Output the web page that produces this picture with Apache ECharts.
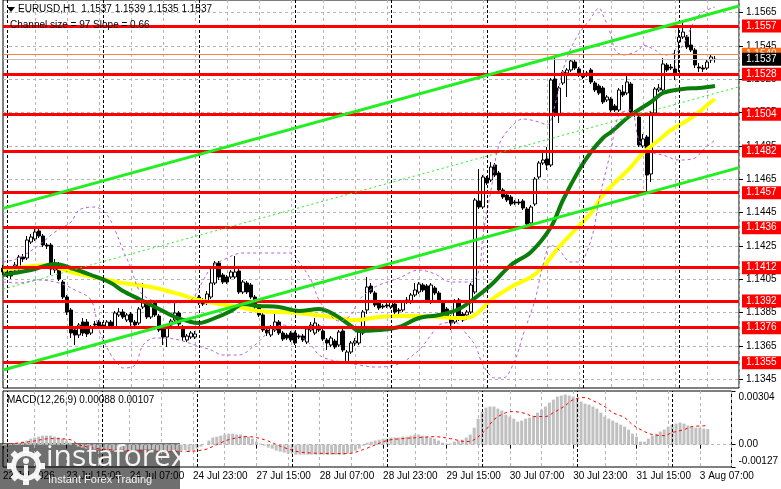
<!DOCTYPE html>
<html><head><meta charset="utf-8">
<script src="https://cdn.jsdelivr.net/npm/echarts@6/dist/echarts.min.js"></script>
<style>html,body{margin:0;padding:0;background:#fff}#c{width:781px;height:489px}</style>
</head><body><div id="c"></div>
<script>
const opens = [1.14118,1.14094,1.14100,1.14106,1.14112,1.14184,1.14178,1.14274,1.14292,1.14340,1.14310,1.14256,1.14256,1.14106,1.14136,1.14034,1.13944,1.13866,1.13746,1.13716,1.13794,1.13794,1.13728,1.13782,1.13794,1.13776,1.13764,1.13794,1.13764,1.13836,1.13854,1.13806,1.13842,1.13794,1.13788,1.13884,1.13914,1.13824,1.13908,1.13830,1.13764,1.13704,1.13776,1.13806,1.13848,1.13764,1.13686,1.13704,1.13704,1.13944,1.13926,1.13908,1.13944,1.14028,1.14148,1.14076,1.14064,1.14064,1.14064,1.14100,1.13974,1.14028,1.14016,1.13944,1.13884,1.13836,1.13746,1.13716,1.13746,1.13794,1.13728,1.13716,1.13728,1.13728,1.13710,1.13710,1.13674,1.13746,1.13728,1.13770,1.13740,1.13686,1.13656,1.13680,1.13656,1.13740,1.13554,1.13614,1.13668,1.13668,1.13728,1.13866,1.14010,1.13968,1.13914,1.13890,1.13896,1.13884,1.13902,1.13866,1.13866,1.13914,1.13914,1.13956,1.13974,1.14016,1.14010,1.13914,1.13998,1.13968,1.13914,1.13872,1.13824,1.13794,1.13926,1.13842,1.13836,1.13854,1.13974,1.14520,1.14484,1.14658,1.14646,1.14736,1.14688,1.14586,1.14556,1.14544,1.14514,1.14514,1.14520,1.14472,1.14388,1.14502,1.14664,1.14748,1.14772,1.14736,1.15252,1.15036,1.15228,1.15288,1.15306,1.15354,1.15312,1.15270,1.15288,1.15306,1.15228,1.15210,1.15198,1.15126,1.15132,1.15090,1.15066,1.15174,1.15168,1.15222,1.15054,1.15024,1.14850,1.14904,1.14682,1.15048,1.15186,1.15186,1.15336,1.15324,1.15312,1.15474,1.15504,1.15504,1.15456,1.15426,1.15324,1.15318,1.15318,1.15366,1.15370];
const closes = [1.14094,1.14088,1.14070,1.14136,1.14184,1.14172,1.14286,1.14304,1.14334,1.14310,1.14256,1.14250,1.14112,1.14148,1.14052,1.13944,1.13854,1.13728,1.13716,1.13776,1.13728,1.13722,1.13764,1.13776,1.13770,1.13764,1.13794,1.13764,1.13848,1.13854,1.13824,1.13836,1.13794,1.13776,1.13872,1.13908,1.13824,1.13896,1.13836,1.13746,1.13704,1.13770,1.13800,1.13848,1.13782,1.13704,1.13710,1.13728,1.13722,1.13908,1.13902,1.13962,1.14028,1.14148,1.14064,1.14034,1.14034,1.14094,1.14094,1.13974,1.14034,1.13974,1.13944,1.13884,1.13836,1.13746,1.13728,1.13764,1.13794,1.13728,1.13692,1.13698,1.13686,1.13668,1.13704,1.13686,1.13752,1.13776,1.13788,1.13746,1.13692,1.13668,1.13698,1.13644,1.13734,1.13626,1.13614,1.13668,1.13680,1.13734,1.13854,1.14004,1.13974,1.13896,1.13878,1.13884,1.13890,1.13914,1.13854,1.13860,1.13914,1.13926,1.13956,1.13986,1.14022,1.13986,1.13926,1.14016,1.13968,1.13920,1.13848,1.13824,1.13788,1.13920,1.13812,1.13806,1.13854,1.14016,1.14526,1.14484,1.14664,1.14628,1.14724,1.14676,1.14586,1.14544,1.14526,1.14502,1.14508,1.14508,1.14478,1.14382,1.14484,1.14652,1.14748,1.14766,1.14736,1.15246,1.15036,1.15198,1.15294,1.15306,1.15360,1.15318,1.15276,1.15264,1.15276,1.15234,1.15186,1.15168,1.15114,1.15144,1.15066,1.15066,1.15186,1.15156,1.15234,1.15054,1.15036,1.14856,1.14892,1.14676,1.15048,1.15192,1.15198,1.15342,1.15306,1.15318,1.15282,1.15504,1.15534,1.15444,1.15426,1.15336,1.15318,1.15312,1.15354,1.15384,1.15370];
const lows = [1.14076,1.14064,1.14052,1.14094,1.14100,1.14154,1.14166,1.14262,1.14280,1.14298,1.14244,1.14232,1.14076,1.14088,1.14040,1.13932,1.13836,1.13698,1.13656,1.13698,1.13710,1.13704,1.13716,1.13758,1.13752,1.13752,1.13752,1.13752,1.13752,1.13824,1.13812,1.13794,1.13764,1.13758,1.13776,1.13872,1.13812,1.13812,1.13824,1.13734,1.13656,1.13644,1.13764,1.13794,1.13770,1.13680,1.13674,1.13692,1.13692,1.13896,1.13890,1.13896,1.13932,1.14016,1.14046,1.14022,1.14022,1.14052,1.14052,1.13962,1.13962,1.13962,1.13932,1.13872,1.13824,1.13734,1.13710,1.13704,1.13734,1.13716,1.13680,1.13686,1.13674,1.13656,1.13692,1.13674,1.13662,1.13734,1.13716,1.13734,1.13680,1.13626,1.13644,1.13632,1.13644,1.13614,1.13542,1.13602,1.13650,1.13656,1.13716,1.13842,1.13962,1.13884,1.13866,1.13872,1.13878,1.13872,1.13842,1.13842,1.13854,1.13902,1.13902,1.13944,1.13962,1.13974,1.13914,1.13902,1.13956,1.13908,1.13836,1.13812,1.13746,1.13782,1.13800,1.13794,1.13806,1.13842,1.13962,1.14472,1.14472,1.14616,1.14634,1.14664,1.14574,1.14532,1.14514,1.14490,1.14496,1.14496,1.14466,1.14352,1.14376,1.14490,1.14652,1.14736,1.14706,1.14724,1.15024,1.14988,1.15216,1.15144,1.15294,1.15306,1.15264,1.15252,1.15264,1.15222,1.15174,1.15156,1.15102,1.15114,1.15054,1.15054,1.15054,1.15144,1.15156,1.15042,1.15024,1.14844,1.14838,1.14562,1.14634,1.15036,1.15174,1.15174,1.15294,1.15306,1.15246,1.15294,1.15492,1.15432,1.15414,1.15318,1.15294,1.15294,1.15306,1.15348,1.15350];
const highs = [1.14136,1.14118,1.14118,1.14154,1.14196,1.14202,1.14310,1.14322,1.14364,1.14358,1.14322,1.14268,1.14268,1.14172,1.14154,1.14046,1.13956,1.13878,1.13770,1.13788,1.13818,1.13812,1.13776,1.13800,1.13806,1.13794,1.13806,1.13806,1.13860,1.13878,1.13872,1.13848,1.13854,1.13806,1.13884,1.14028,1.13926,1.13908,1.13920,1.13842,1.13776,1.13782,1.13812,1.13914,1.13860,1.13776,1.13722,1.13740,1.13740,1.13956,1.13938,1.13980,1.14130,1.14160,1.14160,1.14088,1.14076,1.14106,1.14190,1.14112,1.14046,1.14040,1.14028,1.13956,1.13896,1.13848,1.13758,1.13776,1.13854,1.13806,1.13740,1.13728,1.13740,1.13740,1.13722,1.13722,1.13764,1.13794,1.13818,1.13782,1.13752,1.13698,1.13710,1.13692,1.13746,1.13752,1.13626,1.13680,1.13698,1.13746,1.13866,1.14064,1.14028,1.13980,1.13926,1.13902,1.13914,1.13926,1.13914,1.13878,1.13926,1.13944,1.13968,1.14028,1.14034,1.14028,1.14022,1.14028,1.14010,1.13980,1.13926,1.13884,1.13836,1.13932,1.13938,1.13854,1.13866,1.14028,1.14538,1.14712,1.14676,1.14670,1.14754,1.14748,1.14700,1.14598,1.14568,1.14556,1.14526,1.14532,1.14532,1.14484,1.14496,1.14664,1.14760,1.14826,1.14844,1.15258,1.15384,1.15210,1.15306,1.15318,1.15372,1.15366,1.15324,1.15282,1.15300,1.15318,1.15240,1.15222,1.15210,1.15156,1.15144,1.15102,1.15198,1.15216,1.15276,1.15234,1.15066,1.15036,1.14922,1.14916,1.15060,1.15204,1.15222,1.15378,1.15348,1.15342,1.15426,1.15576,1.15594,1.15516,1.15576,1.15438,1.15348,1.15336,1.15366,1.15396,1.15390];

const macdMain = [-0.00006,-0.00006,0,0.00006,0.00011,0.00017,0.00023,0.00034,0.00040,0.00045,0.00051,0.00051,0.00051,0.00045,0.00040,0.00034,0.00023,0.00011,0,-0.00011,-0.00017,-0.00023,-0.00023,-0.00028,-0.00028,-0.00028,-0.00028,-0.00034,-0.00034,-0.00034,-0.00034,-0.00034,-0.00034,-0.00034,-0.00028,-0.00028,-0.00028,-0.00028,-0.00028,-0.00034,-0.00034,-0.00040,-0.00040,-0.00034,-0.00034,-0.00040,-0.00040,-0.00040,-0.00034,-0.00023,-0.00011,0,0.00023,0.00040,0.00045,0.00051,0.00057,0.00062,0.00062,0.00057,0.00057,0.00051,0.00045,0.00034,0.00017,0.00006,-0.00006,-0.00017,-0.00023,-0.00034,-0.00040,-0.00045,-0.00051,-0.00051,-0.00057,-0.00057,-0.00057,-0.00057,-0.00057,-0.00057,-0.00057,-0.00057,-0.00057,-0.00057,-0.00057,-0.00057,-0.00057,-0.00051,-0.00045,-0.00034,-0.00023,-0.00006,0.00011,0.00017,0.00023,0.00028,0.00034,0.00034,0.00040,0.00040,0.00040,0.00045,0.00045,0.00051,0.00057,0.00057,0.00051,0.00045,0.00040,0.00034,0.00023,0.00011,0.00006,0.00006,0.00017,0.00023,0.00028,0.00040,0.00057,0.00096,0.00147,0.00187,0.00210,0.00216,0.00216,0.00204,0.00193,0.00170,0.00159,0.00147,0.00130,0.00136,0.00147,0.00153,0.00164,0.00181,0.00198,0.00216,0.00238,0.00255,0.00272,0.00278,0.00284,0.00278,0.00272,0.00261,0.00244,0.00232,0.00227,0.00216,0.00204,0.00181,0.00159,0.00147,0.00136,0.00125,0.00113,0.00102,0.00085,0.00062,0.00045,0.00017,0.00017,0.00034,0.00051,0.00062,0.00074,0.00085,0.00102,0.00113,0.00119,0.00125,0.00119,0.00108,0.00102,0.00096,0.00096,0.00091,0.00088];
const macdSignal = [[0,0],[7,0.00017],[12,0.00034],[17,0.00028],[19,0],[24,-0.00023],[32,-0.00034],[45,-0.0004],[51,-0.00028],[54,0],[57,0.00028],[62,0.00045],[66,0.00028],[71,-0.00017],[76,-0.00045],[87,-0.00051],[91,-0.00028],[97,0.00023],[101,0.00034],[105,0.0004],[109,0.00045],[113,0.00034],[117,0.00017],[119,0.00028],[122,0.00085],[124,0.00142],[127,0.00181],[129,0.00187],[132,0.00176],[134,0.00159],[137,0.00159],[139,0.00181],[142,0.00221],[144,0.00255],[147,0.00267],[149,0.00249],[152,0.00215],[154,0.00181],[157,0.00153],[159,0.00113],[162,0.00074],[164,0.00057],[167,0.00051],[169,0.00068],[172,0.00085],[174,0.00102],[178,0.00107]];

const maSlow = [[0,1.14106],[12,1.14136],[14,1.14118],[17,1.14094],[24,1.14058],[30,1.14028],[37,1.14004],[44,1.13962],[49,1.13926],[54,1.13902],[59,1.13884],[64,1.13860],[74,1.13848],[82,1.13824],[88,1.13806],[94,1.13824],[99,1.13830],[104,1.13830],[109,1.13824],[114,1.13818],[117,1.13824],[120,1.13878],[122,1.13926],[127,1.14004],[132,1.14064],[135,1.14124],[139,1.14244],[143,1.14346],[147,1.14448],[150,1.14556],[157,1.14724],[160,1.14808],[164,1.14886],[167,1.14946],[172,1.15018],[177,1.15114],[178,1.15132]];
const maFast = [[0,1.14076],[7,1.14106],[13,1.14142],[17,1.14118],[22,1.14076],[27,1.14028],[30,1.13980],[34,1.13932],[39,1.13872],[43,1.13824],[47,1.13794],[49,1.13788],[53,1.13818],[57,1.13860],[60,1.13902],[64,1.13890],[69,1.13884],[74,1.13860],[79,1.13872],[83,1.13836],[87,1.13770],[89,1.13740],[94,1.13746],[99,1.13764],[104,1.13818],[109,1.13836],[114,1.13872],[118,1.13938],[122,1.14016],[127,1.14136],[132,1.14214],[137,1.14364],[140,1.14526],[144,1.14706],[147,1.14814],[150,1.14898],[152,1.14934],[157,1.15036],[162,1.15114],[165,1.15168],[170,1.15192],[174,1.15198],[178,1.15210]];
const bandUpper = [[0,1.14154],[4,1.14178],[9,1.14256],[13,1.14334],[17,1.14394],[19,1.14466],[23,1.14484],[26,1.14436],[28,1.14346],[30,1.14226],[32,1.14118],[34,1.13986],[37,1.13926],[42,1.13908],[47,1.13926],[49,1.13998],[52,1.14118],[55,1.14166],[60,1.14208],[67,1.14208],[72,1.14208],[74,1.14154],[77,1.14046],[79,1.13926],[82,1.13830],[84,1.13800],[87,1.13836],[89,1.13926],[93,1.14004],[99,1.14058],[104,1.14106],[108,1.14082],[112,1.14034],[117,1.14034],[119,1.14106],[120,1.14316],[122,1.14586],[124,1.14856],[127,1.14964],[130,1.15012],[134,1.14994],[136,1.14976],[138,1.15096],[140,1.15306],[143,1.15486],[147,1.15618],[149,1.15678],[150,1.15636],[152,1.15516],[153,1.15426],[155,1.15396],[159,1.15426],[160,1.15456],[163,1.15426],[165,1.15396],[168,1.15408],[170,1.15456],[173,1.15606],[175,1.15654],[178,1.15684]];
const bandLower = [[0,1.14034],[4,1.14028],[9,1.14046],[14,1.14028],[18,1.13986],[22,1.13926],[24,1.13746],[27,1.13596],[29,1.13536],[30,1.13518],[33,1.13536],[35,1.13656],[38,1.13698],[40,1.13698],[44,1.13686],[48,1.13656],[52,1.13626],[55,1.13596],[59,1.13596],[63,1.13656],[67,1.13746],[70,1.13776],[74,1.13716],[77,1.13656],[79,1.13596],[82,1.13566],[85,1.13554],[89,1.13536],[93,1.13524],[97,1.13530],[100,1.13554],[104,1.13626],[107,1.13716],[109,1.13776],[113,1.13794],[115,1.13746],[118,1.13656],[120,1.13536],[123,1.13458],[125,1.13458],[128,1.13566],[130,1.13716],[133,1.13926],[135,1.14136],[137,1.14256],[139,1.14226],[142,1.14154],[144,1.14154],[147,1.14286],[149,1.14526],[152,1.14826],[154,1.15036],[157,1.15066],[159,1.14886],[162,1.14814],[165,1.14796],[169,1.14766],[173,1.14778],[175,1.14826],[178,1.14886]];

const channelUpper = [[0,1.14476],[184,1.15690]];
const channelMiddle = [[0,1.13991],[184,1.15205]];
const channelLower = [[0,1.13506],[184,1.14720]];
const levels = [1.1557,1.1528,1.1504,1.1482,1.1457,1.1436,1.1412,1.1392,1.1376,1.1355];
const bidPrice = 1.1537;
const askPrice = 1.1540;
const priceTicks = [1.1345,1.1365,1.1385,1.1405,1.1425,1.1445,1.1465,1.1485,1.1505,1.1525,1.1545,1.1565];
const macdTicks = [0.00304,0,-0.00127];
const timeLabels = ['22 Jul 2026','23 Jul 15:00','24 Jul 07:00','24 Jul 23:00','27 Jul 15:00','28 Jul 07:00','28 Jul 23:00','29 Jul 15:00','30 Jul 07:00','30 Jul 23:00','31 Jul 15:00','3 Aug 07:00'];
const daySeparators = [1,25,49,73,97,121,145,169];
const slotCount = 185;

const FONT = "'Liberation Sans',Arial,sans-serif";
const FS = 10;
const cats = Array.from({length: slotCount}, (_, i) => String(i));
const candles = opens.map((o, i) => [o, closes[i], lows[i], highs[i]]);
const gridInt = (i) => i % 8 === 0 && i > 0;
const labInt = (i) => i % 16 === 0;
const vSplit = {show: true, interval: gridInt, lineStyle: {color: '#b4b4b4', type: [3, 3], width: 1}};
const dayLine = {silent: true, symbol: 'none', precision: 5, label: {show: false},
  lineStyle: {color: '#000', type: [3, 2], width: 1}, emphasis: {disabled: true},
  data: daySeparators.map(i => ({xAxis: i}))};
function lvlLine(vals, color, lineColor, width, bg) {
  return {silent: true, symbol: 'none', precision: 5, animation: false, emphasis: {disabled: true},
    lineStyle: {color: lineColor, type: 'solid', width: width},
    label: {show: true, position: 'end', distance: 3, formatter: p => Number(p.value).toFixed(4),
      backgroundColor: bg, color: color, fontSize: FS, fontFamily: FONT, lineHeight: 12,
      padding: [1, 5, 0, 4]},
    data: vals.map(v => ({yAxis: v}))};
}

const chart = echarts.init(document.getElementById('c'), null, {renderer: 'canvas'});
chart.setOption({
  animation: false,
  backgroundColor: '#fff',
  textStyle: {fontFamily: FONT},
  grid: [
    {left: 3, right: 42, top: 0, height: 388, show: true, borderColor: '#000', borderWidth: 1},
    {left: 3, right: 42, top: 391, height: 76, show: true, borderColor: '#000', borderWidth: 1}
  ],
  xAxis: [
    {type: 'category', gridIndex: 0, data: cats, boundaryGap: false,
      axisLine: {show: false}, axisTick: {show: false}, axisLabel: {show: false}, splitLine: vSplit},
    {type: 'category', gridIndex: 1, data: cats, boundaryGap: false,
      axisLine: {show: false},
      axisTick: {show: true, interval: labInt, length: 4, lineStyle: {color: '#000'}},
      axisLabel: {show: true, interval: labInt, formatter: (v, i) => timeLabels[i / 16] || '',
        align: 'left', margin: 4, color: '#000', fontSize: FS, fontFamily: FONT},
      splitLine: vSplit}
  ],
  yAxis: [
    {type: 'value', gridIndex: 0, position: 'right', min: 1.13398, max: 1.15726,
      axisLine: {show: false},
      axisTick: {show: true, customValues: priceTicks, length: 4, lineStyle: {color: '#000'}},
      axisLabel: {customValues: priceTicks, formatter: v => v.toFixed(4), color: '#000',
        fontSize: FS, margin: 7, fontFamily: FONT},
      splitLine: {show: true, lineStyle: {color: '#b4b4b4', type: [3, 3], width: 1}}},
    {type: 'value', gridIndex: 1, position: 'right', min: -0.00127, max: 0.00304,
      axisLine: {show: false},
      axisTick: {show: true, customValues: macdTicks, length: 4, lineStyle: {color: '#000'}},
      axisLabel: {customValues: macdTicks, margin: 7, color: '#000', fontSize: FS, fontFamily: FONT,
        formatter: v => v > 0.001 ? '{t|' + v.toFixed(5) + '}' : (v < -0.0005 ? '{b|' + v.toFixed(5) + '}' : '{m|0.00}'),
        rich: {
          t: {fontSize: FS, fontFamily: FONT, color: '#000', padding: [12, 0, 0, 0]},
          b: {fontSize: FS, fontFamily: FONT, color: '#000', padding: [0, 0, 12, 0]},
          m: {fontSize: FS, fontFamily: FONT, color: '#000'}
        }},
      splitLine: {show: false}}
  ],
  series: [
    {type: 'candlestick', xAxisIndex: 0, yAxisIndex: 0, data: candles, barWidth: 3, z: 3,
      itemStyle: {color: '#ffffff', color0: '#000000', borderColor: '#000000', borderColor0: '#000000', borderWidth: 1},
      emphasis: {disabled: true}},
    {type: 'line', name: 'MA slow', xAxisIndex: 0, yAxisIndex: 0, data: maSlow, smooth: 0.35,
      showSymbol: false, z: 4, lineStyle: {color: '#ffff00', width: 4}, emphasis: {disabled: true}},
    {type: 'line', name: 'MA fast', xAxisIndex: 0, yAxisIndex: 0, data: maFast, smooth: 0.35,
      showSymbol: false, z: 4, lineStyle: {color: '#0a7d0a', width: 4}, emphasis: {disabled: true}},
    {type: 'line', name: 'BB upper', xAxisIndex: 0, yAxisIndex: 0, data: bandUpper, smooth: 0.35,
      showSymbol: false, z: 4, lineStyle: {color: '#b860e0', width: 1, type: [3, 3]}, emphasis: {disabled: true}},
    {type: 'line', name: 'BB lower', xAxisIndex: 0, yAxisIndex: 0, data: bandLower, smooth: 0.35,
      showSymbol: false, z: 4, lineStyle: {color: '#b860e0', width: 1, type: [3, 3]}, emphasis: {disabled: true}},
    {type: 'line', name: 'Channel mid', xAxisIndex: 0, yAxisIndex: 0, data: channelMiddle, clip: false,
      showSymbol: false, z: 5, lineStyle: {color: '#22ee22', width: 1, type: [2, 3]}, emphasis: {disabled: true},
      markLine: dayLine},
    {type: 'line', name: 'Channel upper', xAxisIndex: 0, yAxisIndex: 0, data: channelUpper, clip: false,
      showSymbol: false, z: 5, lineStyle: {color: '#22ee22', width: 3}, emphasis: {disabled: true},
      markLine: lvlLine([askPrice], '#fff', '#ff8040', 1, '#ff6a10')},
    {type: 'line', name: 'Channel lower', xAxisIndex: 0, yAxisIndex: 0, data: channelLower, clip: false,
      showSymbol: false, z: 6, lineStyle: {color: '#22ee22', width: 3}, emphasis: {disabled: true},
      markLine: lvlLine(levels, '#fff', '#ff0000', 3, '#ff0000')},
    {type: 'line', name: 'Bid', xAxisIndex: 0, yAxisIndex: 0, data: [[178, bidPrice]], clip: false,
      showSymbol: false, z: 7, lineStyle: {opacity: 0}, emphasis: {disabled: true},
      markLine: lvlLine([bidPrice], '#fff', '#c0c0c0', 1, '#000')},
    {type: 'bar', name: 'MACD', xAxisIndex: 1, yAxisIndex: 1, data: macdMain, barWidth: 3, z: 3,
      itemStyle: {color: '#c0c0c0'}, emphasis: {disabled: true},
      markLine: {silent: true, symbol: 'none', precision: 5, label: {show: false}, emphasis: {disabled: true},
        lineStyle: {color: '#b4b4b4', type: [3, 3], width: 1},
        data: [{yAxis: 0}].concat(daySeparators.map(i => ({xAxis: i, lineStyle: {color: '#000', type: [3, 2]}})))}},
    {type: 'line', name: 'Signal', xAxisIndex: 1, yAxisIndex: 1, data: macdSignal, smooth: 0.35,
      showSymbol: false, z: 4, lineStyle: {color: '#ff0000', width: 1, type: [3, 3]}, emphasis: {disabled: true}}
  ],
  graphic: [
    {type: 'rect', z: -1, shape: {x: 0, y: 443, width: 180, height: 46}, style: {fill: 'rgba(55,55,55,0.72)'}, silent: true},
    {type: 'polygon', z: 100, shape: {points: [[7, 7], [15, 7], [11, 12]]}, style: {fill: '#000'}, silent: true},
    {type: 'text', z: 100, x: 18, y: 4, silent: true,
      style: {text: 'EURUSD,H1  1.1537 1.1539 1.1535 1.1537', fill: '#000', font: FS + 'px ' + FONT, verticalAlign: 'top'}},
    {type: 'text', z: 100, x: 10, y: 20, silent: true,
      style: {text: 'Channel size = 97 Slope = 0.66', fill: '#000', font: FS + 'px ' + FONT, verticalAlign: 'top'}},
    {type: 'text', z: 100, x: 7, y: 395, silent: true,
      style: {text: 'MACD(12,26,9) 0.00088 0.00107', fill: '#000', font: FS + 'px ' + FONT, verticalAlign: 'top'}},
    {type: 'group', z: 100, silent: true, children: [
      {type: 'ring', z: 100, shape: {cx: 26, cy: 466, r: 15, r0: 10}, style: {fill: 'rgba(255,255,255,0.92)'}},
      ...[0, 45, 90, 135, 180, 225, 270, 315].map(a => ({
        type: 'rect', z: 100, shape: {x: 23, y: 447, width: 6, height: 6},
        originX: 26, originY: 466, rotation: a * Math.PI / 180,
        style: {fill: 'rgba(255,255,255,0.92)'}})),
      {type: 'circle', z: 100, shape: {cx: 26, cy: 461, r: 3}, style: {fill: 'rgba(255,255,255,0.92)'}},
      {type: 'rect', z: 100, shape: {x: 24, y: 465, width: 4, height: 11}, style: {fill: 'rgba(255,255,255,0.92)'}}
    ]},
    {type: 'text', z: 100, x: 46, y: 442, silent: true,
      style: {text: 'instaforex', fill: 'rgba(255,255,255,0.92)', font: '30px "Open Sans", "Liberation Sans", sans-serif', verticalAlign: 'top'}},
    {type: 'text', z: 100, x: 48, y: 474, silent: true,
      style: {text: 'Instant Forex Trading', fill: 'rgba(255,255,255,0.92)', font: '11px ' + FONT, verticalAlign: 'top'}}
  ]
});
</script>
</body></html>
